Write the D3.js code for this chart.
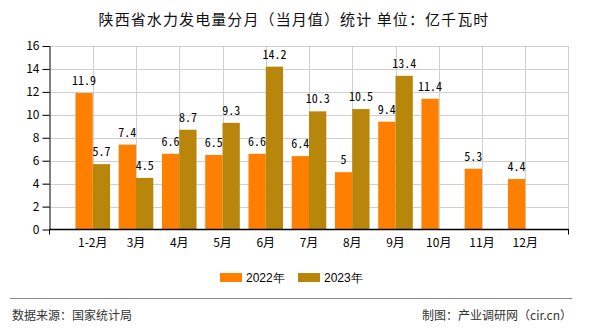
<!DOCTYPE html>
<html><head><meta charset="utf-8">
<script src="https://cdn.jsdelivr.net/npm/d3@7"></script>
<style>
html,body{margin:0;padding:0;background:#fff;}
svg{display:block;}
</style></head>
<body><svg id="c" width="590" height="330"></svg>
<script>
const categories = ["1-2月","3月","4月","5月","6月","7月","8月","9月","10月","11月","12月"];
const series2022 = [11.9, 7.4, 6.6, 6.5, 6.6, 6.4, 5, 9.4, 11.4, 5.3, 4.4];
const series2023 = [5.7, 4.5, 8.7, 9.3, 14.2, 10.3, 10.5, 13.4, null, null, null];
const seriesNames = ["2022年", "2023年"];
const colors = ["#FF8000", "#B8860B"];
const yTicks = [0, 2, 4, 6, 8, 10, 12, 14, 16];
const title = "陕西省水力发电量分月（当月值）统计 单位：亿千瓦时";
const sourceText = "数据来源：国家统计局";
const creditText = "制图：产业调研网（cir.cn）";

const svg = d3.select("#c");
const cjk = "'Noto Sans CJK SC', 'Noto Sans', sans-serif";
const mono = "'Noto Sans Mono CJK SC', 'Liberation Mono', 'DejaVu Sans Mono', monospace";

const L = 49.5, R = 568.5, T = 46, B = 229.5;
const x = d3.scalePoint().domain(categories).range([L, R]).padding(1);
const y = d3.scaleLinear().domain([0, 16]).range([B, T]);
const bw = x.step() * 0.4;

// title
svg.append("text").attr("x", 294).attr("y", 25).attr("text-anchor", "middle")
  .attr("font-family", cjk).attr("font-size", 15).attr("letter-spacing", "1.1px")
  .attr("fill", "#111").text(title);

// horizontal grid
const g = svg.append("g");
g.selectAll("line.h").data(yTicks).join("line")
  .attr("x1", L - 7).attr("x2", R).attr("y1", d => Math.round(y(d)) + 0.5).attr("y2", d => Math.round(y(d)) + 0.5)
  .attr("stroke", d => d === 0 ? "none" : "#d0d0d0").attr("stroke-width", 1);
// vertical grid
g.selectAll("line.v").data(categories).join("line")
  .attr("x1", d => Math.round(x(d)) + 0.5).attr("x2", d => Math.round(x(d)) + 0.5)
  .attr("y1", T).attr("y2", B).attr("stroke", "#d0d0d0");
g.append("line").attr("x1", R).attr("x2", R).attr("y1", T).attr("y2", B).attr("stroke", "#d0d0d0");

// bars
const data = categories.map((c, i) => ({c, v: [series2022[i], series2023[i]]}));
[0, 1].forEach(s => {
  const arr = data.filter(d => d.v[s] != null);
  svg.append("g").selectAll("rect").data(arr).join("rect")
    .attr("x", d => s === 0 ? x(d.c) - bw : x(d.c))
    .attr("width", bw)
    .attr("y", d => y(d.v[s]))
    .attr("height", d => y(0) - y(d.v[s]))
    .attr("fill", colors[s]);
  svg.append("g").selectAll("text").data(arr).join("text")
    .attr("x", d => s === 0 ? x(d.c) - bw / 2 : x(d.c) + bw / 2)
    .attr("y", d => y(d.v[s]) - 8)
    .attr("text-anchor", "middle").attr("font-family", mono).attr("font-size", 12)
    .attr("fill", "#000").text(d => d.v[s]);
});

// y axis
const ya = svg.append("g").attr("transform", `translate(${L},0)`)
  .call(d3.axisLeft(y).tickValues(yTicks).tickSize(7).tickFormat(d3.format("d")));
ya.select(".domain").attr("stroke", "#000").attr("d", `M0.5,${T}V${B}`);
ya.selectAll(".tick line").attr("stroke", "#000");
ya.selectAll(".tick text").attr("font-family", cjk).attr("font-size", 12).attr("fill", "#000").attr("x", -10);

// x axis
svg.append("line").attr("x1", L).attr("x2", R + 0.5).attr("y1", B).attr("y2", B).attr("stroke", "#000").attr("stroke-width", 1.5);
[L, R].forEach(px => svg.append("line").attr("x1", px).attr("x2", px).attr("y1", B).attr("y2", B + 5).attr("stroke", "#000"));
svg.append("g").selectAll("text").data(categories).join("text")
  .attr("x", d => x(d)).attr("y", 247).attr("text-anchor", "middle")
  .attr("font-family", cjk).attr("font-size", 12).attr("fill", "#000").text(d => d);

// legend
const legX = [220, 298];
seriesNames.forEach((n, i) => {
  svg.append("rect").attr("x", legX[i]).attr("y", 273).attr("width", 22).attr("height", 9).attr("fill", colors[i]);
  svg.append("text").attr("x", legX[i] + 26).attr("y", 282).attr("font-family", "'Liberation Sans', Arial, sans-serif")
    .attr("font-size", 12).attr("fill", "#000").text(n);
});

// separator and footer
svg.append("line").attr("x1", 10).attr("x2", 572).attr("y1", 298.5).attr("y2", 298.5).attr("stroke", "#888").attr("stroke-width", 1);
svg.append("text").attr("x", 12).attr("y", 320).attr("font-family", cjk).attr("font-size", 12).attr("fill", "#333").text(sourceText);
svg.append("text").attr("x", 572).attr("y", 320).attr("text-anchor", "end").attr("font-family", cjk).attr("font-size", 12).attr("fill", "#333").text(creditText);
</script></body></html>
